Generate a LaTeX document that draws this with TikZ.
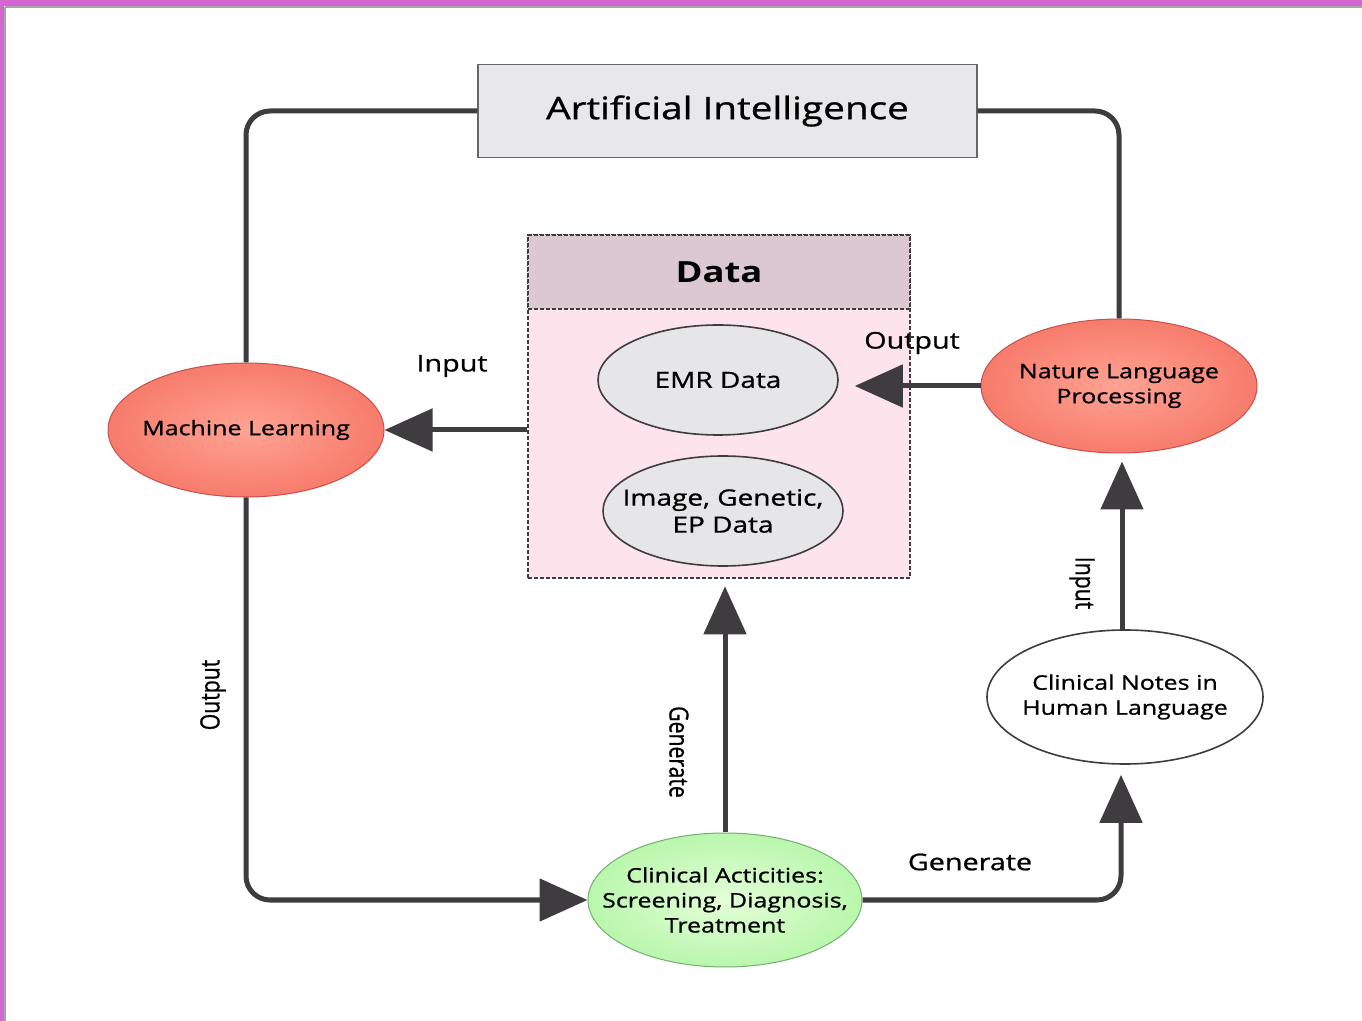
\documentclass[tikz,border=0pt]{standalone}
\usepackage{fontspec}
\setmainfont{Open Sans}[FakeStretch=1.25, FakeBold=0.9]
\newfontfamily\headfont{Open Sans}[FakeStretch=1.25]
\newfontfamily\sidefont{Open Sans}[FakeBold=0.9]
\usetikzlibrary{arrows.meta,shapes.geometric,calc}

\definecolor{frame}{HTML}{D466D4}
\definecolor{wire}{HTML}{3E3C3E}
\definecolor{aifill}{HTML}{E8E8EA}
\definecolor{headfill}{HTML}{DCC8D0}
\definecolor{bodyfill}{HTML}{FDE4EC}
\definecolor{greyfill}{HTML}{E6E6E8}
\definecolor{redin}{HTML}{FFA393}
\definecolor{redout}{HTML}{EE5444}
\definecolor{redline}{HTML}{C85050}
\definecolor{greenin}{HTML}{E4FFD8}
\definecolor{greenout}{HTML}{8EEE80}
\definecolor{greenline}{HTML}{70B070}

\pgfdeclareradialshading{redball}{\pgfpoint{0bp}{0bp}}{color(0bp)=(redin); color(50bp)=(redout)}
\pgfdeclareradialshading{greenball}{\pgfpoint{0bp}{0bp}}{color(0bp)=(greenin); color(50bp)=(greenout)}

% side labels run along the lines; widen their glyphs across the line
\newcommand{\sidetext}[1]{\scalebox{1}[1.25]{#1}}

\tikzset{
  connector/.style={draw=wire, line width=2.5pt, rounded corners=12pt},
  flow/.style={connector, -{Triangle[length=24pt,width=21pt]}},
  oval/.style={ellipse, inner sep=0pt},
  ovaltext/.style={align=center, inner sep=0pt, font=\fontsize{10}{12.5}\selectfont},
  greytext/.style={align=center, inner sep=0pt, font=\fontsize{11.2}{13.5}\selectfont},
  redoval/.style={oval, shading=redball, draw=redline, line width=0.5pt,
    minimum width=138pt, minimum height=67pt},
  greyoval/.style={oval, fill=greyfill, draw=wire, line width=0.8pt,
    minimum width=120pt, minimum height=55pt},
  lbl/.style={font=\fontsize{11.5}{14}\selectfont, inner sep=0pt},
  sidelbl/.style={font=\sidefont\fontsize{10.6}{13}\selectfont, inner sep=0pt},
}

\begin{document}
\begin{tikzpicture}[x=0.5pt, y=-0.5pt]
\useasboundingbox (0,0) rectangle (1362,1021);
\fill[white] (0,0) rectangle (1362,1021);

% page frame
\fill[frame] (0,0) rectangle (1362,6);
\fill[frame] (0,0) rectangle (4,1021);
\draw[gray!70, line width=0.6pt] (5,7) -- (1362,7);
\draw[gray!70, line width=0.6pt] (5,7) -- (5,1021);

% top box
\node[draw=gray!80!black, fill=aifill, line width=0.6pt, minimum width=249.5pt,
  minimum height=46.5pt, font=\fontsize{15.5}{18}\selectfont] (ai) at (727.5,111) {Artificial Intelligence};

% data container
\node[fill=bodyfill, draw=wire, line width=1.3pt, dash pattern=on 2pt off 1pt,
  minimum width=191pt, minimum height=171.5pt, inner sep=0pt] (data) at (719,406.5) {};
\node[fill=headfill, draw=wire, line width=1.3pt, dash pattern=on 2pt off 1pt,
  minimum width=191pt, minimum height=37pt, inner sep=0pt,
  font=\headfont\fontsize{14.6}{18}\selectfont\bfseries] (datahead) at (719,272) {Data};

\node[greyoval, label={[greytext]center:EMR Data}] (emr) at (718,380) {};
\node[greyoval, label={[greytext]center:Image, Genetic,\\EP Data}] (img) at (723,511) {};

% process ovals
\node[redoval, label={[ovaltext]center:Machine Learning}] (ml) at (246,430) {};
\node[redoval, label={[ovaltext]center:Nature Language\\Processing}] (nlp) at (1119,386) {};
\node[oval, fill=white, draw=wire, line width=0.8pt, minimum width=138pt,
  minimum height=67pt, label={[ovaltext]center:Clinical Notes in\\Human Language}] (notes) at (1125,697) {};
\node[oval, shading=greenball, draw=greenline, line width=0.5pt, minimum width=137pt,
  minimum height=67pt, label={[ovaltext]center:Clinical Acticities:\\Screening, Diagnosis,\\Treatment}] (clin) at (725,900) {};

% connectors
\draw[connector] (ai.west) -| (ml.north);
\draw[connector] (ai.east) -| (nlp.north);
\draw[flow] (ml.east -| data.west) -- (ml.east);
\draw[flow, shorten >=8pt] (nlp.west) -- (emr.east |- nlp.west);
\draw[flow] (ml.south) |- (clin.west);
\draw[flow, shorten >=3.5pt] (clin.north) -- (clin.north |- data.south);
\draw[flow, shorten >=5pt] (clin.east) -| ($(notes.south)+(-4,0)$);
\draw[flow, shorten >=4pt] ($(notes.north)+(-3,0)$) -- ($(nlp.south)+(3,0)$);

% labels
\node[lbl] (lin) at (452,366) {Input};
\node[lbl] (lout) at (912,343) {Output};
\node[sidelbl, rotate=90] (lmlout) at (213,695) {\sidetext{Output}};
\node[sidelbl, rotate=-90] (lgen) at (679,752) {\sidetext{Generate}};
\node[lbl] (lgen2) at (970,862) {Generate};
\node[sidelbl, rotate=-90] (lnin) at (1082,583) {\sidetext{Input}};
\end{tikzpicture}
\end{document}
